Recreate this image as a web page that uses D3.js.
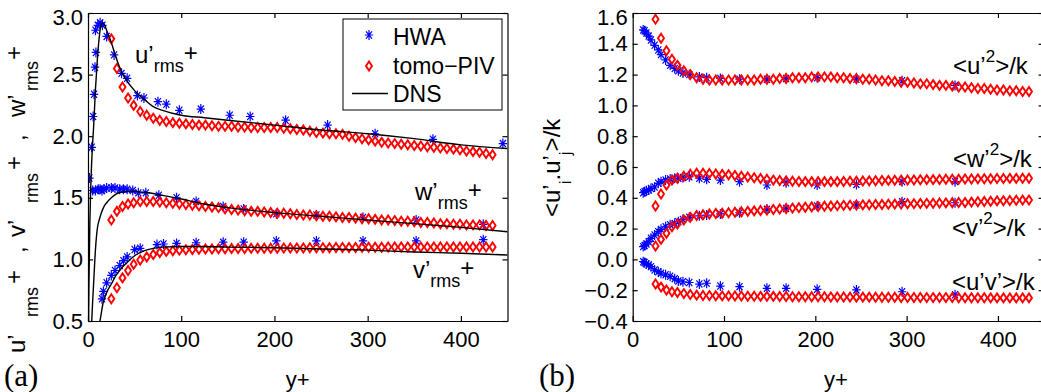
<!DOCTYPE html>
<html><head><meta charset="utf-8">
<script src="https://cdn.jsdelivr.net/npm/d3@7"></script>
<style>body{margin:0;background:#fff}svg{display:block}</style>
</head><body>
<svg id="c" width="1041" height="392"></svg>
<script>
// ---------------- data ----------------
const xTicks = [0, 100, 200, 300, 400];
const yTicksA = [0.5, 1.0, 1.5, 2.0, 2.5, 3.0];
const yTicksB = [-0.4, -0.2, 0.0, 0.2, 0.4, 0.6, 0.8, 1.0, 1.2, 1.4, 1.6];
const legendLabels = ["HWA", "tomo\u2212PIV", "DNS"];

// tomo-PIV wall distances (both panels)
const pivX = [25,31,37,43,49,56,63,70,77,84,91,98,105,112,119,126,133,140,147,154,161,168,175,182,189,196,203,210,217,224,231,238,245,252,259,266,273,280,287,294,301,308,315,322,329,336,343,350,357,364,371,378,385,392,399,406,413,420,427,434];
// panel (a) tomo-PIV
const pivUa = [2.79,2.55,2.40,2.31,2.25,2.20,2.17,2.145,2.13,2.12,2.11,2.105,2.10,2.095,2.09,2.09,2.085,2.08,2.08,2.08,2.075,2.075,2.07,2.07,2.07,2.07,2.07,2.065,2.06,2.055,2.05,2.04,2.03,2.025,2.02,2.02,2.015,2.00,1.99,1.98,1.97,1.96,1.95,1.945,1.94,1.935,1.93,1.925,1.92,1.915,1.91,1.905,1.90,1.895,1.89,1.88,1.875,1.87,1.86,1.85];
const pivWa = [1.32,1.39,1.43,1.45,1.46,1.47,1.47,1.47,1.465,1.46,1.455,1.45,1.445,1.44,1.435,1.43,1.425,1.42,1.41,1.405,1.40,1.395,1.39,1.39,1.385,1.38,1.375,1.375,1.37,1.365,1.36,1.36,1.355,1.35,1.35,1.345,1.34,1.34,1.335,1.33,1.33,1.325,1.32,1.32,1.315,1.31,1.31,1.305,1.30,1.30,1.295,1.29,1.29,1.285,1.285,1.28,1.28,1.28,1.275,1.275];
const pivVa = [0.68,0.77,0.85,0.91,0.96,0.995,1.02,1.04,1.055,1.065,1.07,1.075,1.078,1.08,1.082,1.084,1.085,1.086,1.087,1.088,1.088,1.089,1.09,1.09,1.09,1.09,1.091,1.092,1.092,1.093,1.093,1.094,1.094,1.095,1.095,1.096,1.096,1.097,1.097,1.098,1.098,1.099,1.099,1.10,1.10,1.10,1.10,1.10,1.10,1.10,1.10,1.10,1.10,1.10,1.10,1.10,1.10,1.10,1.10,1.10];
// panel (b) tomo-PIV
const pivUb = [1.56,1.436,1.355,1.30,1.26,1.225,1.20,1.18,1.17,1.165,1.165,1.165,1.165,1.165,1.165,1.165,1.165,1.17,1.17,1.17,1.175,1.175,1.18,1.18,1.18,1.185,1.185,1.185,1.185,1.18,1.18,1.175,1.175,1.17,1.17,1.165,1.16,1.16,1.155,1.15,1.15,1.145,1.14,1.14,1.135,1.13,1.13,1.125,1.12,1.12,1.115,1.11,1.11,1.105,1.10,1.10,1.095,1.095,1.09,1.09];
const pivWb = [0.347,0.425,0.483,0.515,0.527,0.54,0.553,0.559,0.559,0.558,0.555,0.552,0.55,0.545,0.54,0.535,0.53,0.525,0.52,0.515,0.512,0.51,0.508,0.506,0.505,0.505,0.505,0.505,0.505,0.505,0.506,0.507,0.508,0.509,0.51,0.511,0.512,0.513,0.514,0.515,0.516,0.516,0.517,0.518,0.518,0.519,0.52,0.52,0.521,0.522,0.522,0.523,0.524,0.524,0.525,0.525,0.526,0.526,0.527,0.527];
const pivVb = [0.087,0.13,0.17,0.212,0.23,0.256,0.273,0.285,0.29,0.295,0.298,0.30,0.303,0.306,0.309,0.312,0.315,0.318,0.321,0.324,0.327,0.33,0.333,0.336,0.339,0.341,0.343,0.345,0.347,0.349,0.351,0.352,0.353,0.354,0.355,0.356,0.357,0.358,0.359,0.36,0.361,0.362,0.363,0.364,0.365,0.366,0.367,0.368,0.369,0.37,0.372,0.374,0.376,0.378,0.38,0.381,0.382,0.384,0.385,0.386];
const pivUVb = [-0.16,-0.18,-0.199,-0.21,-0.215,-0.222,-0.228,-0.232,-0.234,-0.235,-0.236,-0.237,-0.237,-0.238,-0.238,-0.239,-0.239,-0.24,-0.24,-0.24,-0.241,-0.241,-0.242,-0.242,-0.242,-0.243,-0.243,-0.243,-0.244,-0.244,-0.244,-0.245,-0.245,-0.245,-0.245,-0.246,-0.246,-0.246,-0.246,-0.247,-0.247,-0.247,-0.247,-0.248,-0.248,-0.248,-0.248,-0.248,-0.249,-0.249,-0.249,-0.249,-0.249,-0.25,-0.25,-0.25,-0.25,-0.25,-0.25,-0.25];

// panel (a) HWA
const hwaUxA = [1.5,4,5.5,6.5,7.5,8.5,8,10.5,13,15.5,20,28,36,42,53,60,75,84,98,121,152,174,212,257,308,370,445];
const hwaUa  = [1.66,1.91,2.16,2.34,2.56,2.68,2.86,2.90,2.92,2.90,2.81,2.66,2.51,2.47,2.33,2.31,2.28,2.26,2.21,2.22,2.17,2.16,2.13,2.09,2.02,1.975,1.94];
const hwaWxA = [5,8,11,13,15,17,20,25,29,34,38,42,48,54,62,76,95,116,145,167,202,245,295,352,424];
const hwaWa  = [1.56,1.56,1.57,1.57,1.56,1.57,1.58,1.58,1.58,1.57,1.57,1.57,1.56,1.54,1.54,1.52,1.50,1.47,1.43,1.41,1.37,1.36,1.34,1.32,1.285];
const hwaVxA = [15,16.5,20,25,29,34,38,42,50,56,74,81,95,116,145,167,202,245,295,352,424];
const hwaVa  = [0.68,0.74,0.81,0.87,0.91,0.95,0.99,1.02,1.08,1.09,1.12,1.125,1.13,1.135,1.14,1.14,1.15,1.15,1.15,1.15,1.16];

// panel (b) HWA
const hwaXB  = [11.5,13,15,17.5,20,24,28,31,36,41,46,50,55,62,73,81,96,117,147,168,202,245,295,353];
const hwaUb  = [1.49,1.485,1.47,1.45,1.425,1.39,1.36,1.33,1.295,1.26,1.24,1.225,1.21,1.20,1.185,1.18,1.175,1.17,1.17,1.175,1.18,1.17,1.16,1.13];
const hwaWb  = [0.433,0.44,0.445,0.45,0.46,0.47,0.494,0.505,0.516,0.522,0.527,0.527,0.532,0.537,0.527,0.52,0.515,0.505,0.483,0.498,0.483,0.487,0.505,0.505];
const hwaVb  = [0.083,0.09,0.10,0.115,0.137,0.158,0.18,0.195,0.212,0.225,0.234,0.245,0.26,0.273,0.283,0.288,0.295,0.303,0.325,0.33,0.347,0.353,0.375,0.368];
const hwaUVb = [-0.015,-0.02,-0.028,-0.036,-0.047,-0.069,-0.08,-0.09,-0.10,-0.11,-0.125,-0.14,-0.145,-0.15,-0.16,-0.155,-0.173,-0.177,-0.188,-0.188,-0.194,-0.198,-0.21,-0.23];

// panel (a) DNS
const dnsX = [0,1,2,3,4,5,6,8,10,12,14,16,18,20,25,30,35,40,50,60,70,80,100,125,150,200,250,300,350,400,450];
const dnsU = [0,0.8,1.3,1.6,1.8,1.95,2.07,2.38,2.62,2.80,2.90,2.92,2.90,2.86,2.76,2.64,2.54,2.47,2.37,2.30,2.24,2.21,2.17,2.15,2.13,2.09,2.05,2.02,1.98,1.93,1.90];
const dnsV = [0,0.01,0.02,0.04,0.08,0.11,0.15,0.25,0.36,0.46,0.55,0.64,0.69,0.73,0.80,0.87,0.92,0.96,1.03,1.07,1.09,1.10,1.105,1.105,1.10,1.095,1.085,1.075,1.06,1.05,1.035];
const dnsW = [0,0.12,0.25,0.38,0.5,0.66,0.8,1.08,1.25,1.32,1.37,1.41,1.44,1.46,1.50,1.53,1.545,1.55,1.55,1.545,1.535,1.52,1.49,1.45,1.42,1.38,1.35,1.32,1.29,1.26,1.225];

// ---------------- drawing ----------------
const FONT = "'Liberation Sans', Arial, Helvetica, sans-serif";
const SERIF = "'Liberation Serif', 'Times New Roman', serif";
const svg = d3.select("#c");

const xA = d3.scaleLinear().domain([0, 450]).range([88, 507.5]);
const yA = d3.scaleLinear().domain([0.5, 3.0]).range([321, 13]);
const xB = d3.scaleLinear().domain([0, 450]).range([632.7, 1043.6]);
const yB = d3.scaleLinear().domain([-0.4, 1.6]).range([321, 13]);

const starPath = "M-4.2,0L4.2,0M0,-5L0,5M-3,-3.6L3,3.6M-3,3.6L3,-3.6";
const diamondPath = "M0,-4.5L3,0L0,4.5L-3,0Z";

function clip(id, x, y) {
  svg.append("clipPath").attr("id", id).append("rect")
    .attr("x", x.range()[0]).attr("y", y.range()[1])
    .attr("width", x.range()[1] - x.range()[0]).attr("height", y.range()[0] - y.range()[1]);
  return svg.append("g").attr("clip-path", `url(#${id})`);
}
function stars(g, xs, ys, x, y) {
  g.append("g").selectAll("path").data(xs.map((d, i) => [d, ys[i]])).join("path")
    .attr("d", starPath).attr("transform", d => `translate(${x(d[0])},${y(d[1])})`)
    .attr("fill", "none").attr("stroke", "#0000ff").attr("stroke-width", 1.2);
}
function diamonds(g, xs, ys, x, y) {
  g.append("g").selectAll("path").data(xs.map((d, i) => [d, ys[i]])).join("path")
    .attr("d", diamondPath).attr("transform", d => `translate(${x(d[0])},${y(d[1])})`)
    .attr("fill", "none").attr("stroke", "#ff0000").attr("stroke-width", 1.9);
}
function line(g, xs, ys, x, y) {
  g.append("path").datum(xs.map((d, i) => [d, ys[i]]))
    .attr("d", d3.line().x(d => x(d[0])).y(d => y(d[1])).curve(d3.curveMonotoneX))
    .attr("fill", "none").attr("stroke", "#000").attr("stroke-width", 1.4);
}
function axes(x, y, yt) {
  const [x0, x1] = x.range(), [yb, yt0] = y.range();
  const gb = svg.append("g").attr("transform", `translate(0,${yb})`)
    .call(d3.axisBottom(x).tickValues(xTicks).tickSize(-5).tickSizeOuter(0).tickPadding(10).tickFormat(d3.format("d")));
  const gt = svg.append("g").attr("transform", `translate(0,${yt0})`)
    .call(d3.axisTop(x).tickValues(xTicks).tickSize(-5).tickSizeOuter(0).tickFormat(""));
  const gl = svg.append("g").attr("transform", `translate(${x0},0)`)
    .call(d3.axisLeft(y).tickValues(yt).tickSize(-5).tickSizeOuter(0).tickPadding(5).tickFormat(d3.format(".1f")));
  const gr = svg.append("g").attr("transform", `translate(${x1},0)`)
    .call(d3.axisRight(y).tickValues(yt).tickSize(-5).tickSizeOuter(0).tickFormat(""));
  [gb, gt, gl, gr].forEach(g => {
    g.attr("font-family", FONT).attr("font-size", 22);
    g.selectAll("path,line").attr("stroke", "#000").attr("stroke-width", 1.2);
    g.selectAll("text").attr("fill", "#000");
  });
  gl.selectAll(".tick text").filter(d => d === yt[yt.length - 1]).attr("y", 4.5);
}

// panel (a)
const gA = clip("clipA", xA, yA);
stars(gA, hwaUxA, hwaUa, xA, yA);
stars(gA, hwaWxA, hwaWa, xA, yA);
stars(gA, hwaVxA, hwaVa, xA, yA);
diamonds(gA, pivX, pivUa, xA, yA);
diamonds(gA, pivX, pivWa, xA, yA);
diamonds(gA, pivX, pivVa, xA, yA);
line(gA, dnsX, dnsU, xA, yA);
line(gA, dnsX, dnsW, xA, yA);
line(gA, dnsX, dnsV, xA, yA);
axes(xA, yA, yTicksA);

// panel (b)
const gB = clip("clipB", xB, yB);
stars(gB, hwaXB, hwaUb, xB, yB);
stars(gB, hwaXB, hwaWb, xB, yB);
stars(gB, hwaXB, hwaVb, xB, yB);
stars(gB, hwaXB, hwaUVb, xB, yB);
diamonds(gB, pivX, pivUb, xB, yB);
diamonds(gB, pivX, pivWb, xB, yB);
diamonds(gB, pivX, pivVb, xB, yB);
diamonds(gB, pivX, pivUVb, xB, yB);
axes(xB, yB, yTicksB);

// text helpers
function rich(x, y, parts, size, rotate) {
  const t = svg.append("text").attr("font-family", FONT).attr("font-size", size).attr("fill", "#000")
    .attr("transform", rotate ? `translate(${x},${y}) rotate(-90)` : `translate(${x},${y})`);
  parts.forEach(p => {
    const ts = t.append("tspan").text(p.t).attr("font-size", p.s || size);
    if (p.x !== undefined) ts.attr("x", p.x);
    if (p.b !== undefined) ts.attr("y", p.b);
  });
  return t;
}

// x labels
svg.append("text").attr("x", (xA.range()[0] + xA.range()[1]) / 2).attr("y", 387).attr("text-anchor", "middle")
  .attr("font-family", FONT).attr("font-size", 22).text("y+");
svg.append("text").attr("x", (xB.range()[0] + 1039) / 2).attr("y", 387).attr("text-anchor", "middle")
  .attr("font-family", FONT).attr("font-size", 22).text("y+");
svg.append("text").attr("x", 4).attr("y", 386).attr("font-family", SERIF).attr("font-size", 31).text("(a)");
svg.append("text").attr("x", 539).attr("y", 386).attr("font-family", SERIF).attr("font-size", 31).text("(b)");

// y label (a)
rich(25, 353, [
  {t: "u\u2019", x: 0, b: 0}, {t: "rms", s: 18, x: 36, b: 13}, {t: "+", x: 69, b: -3},
  {t: ",", x: 100, b: 0},
  {t: "v\u2019", x: 116, b: 0}, {t: "rms", s: 18, x: 150, b: 13}, {t: "+", x: 183, b: -3},
  {t: ",", x: 212, b: 0},
  {t: "w\u2019", x: 236, b: 0}, {t: "rms", s: 18, x: 262, b: 13}, {t: "+", x: 293, b: -3}
], 24, true);

// y label (b)
rich(560, 217, [
  {t: "<u\u2019", b: 0}, {t: "i", s: 17, b: 11}, {t: ".u\u2019", b: 0}, {t: "j", s: 17, b: 11}, {t: ">/k", b: 0}
], 24, true);

// in-plot labels (a)
function rmsLabel(x, y, letter) {
  rich(x, y, [{t: letter + "\u2019", b: 0}, {t: "rms", s: 18, b: 9}, {t: "+", b: -2}], 24, false);
}
rmsLabel(135, 63, "u");
rmsLabel(415, 200, "w");
rmsLabel(413, 278, "v");

// in-plot labels (b)
function sqLabel(x, y, letter) {
  rich(x, y, [{t: "<" + letter + "\u2019", b: 0}, {t: "2", s: 17, b: -12}, {t: ">/k", b: 0}], 24, false);
}
sqLabel(953, 74, "u");
sqLabel(953, 167, "w");
sqLabel(952, 236, "v");
rich(952, 290, [{t: "<u\u2019v\u2019>/k"}], 24, false);

// legend
const lg = svg.append("g");
lg.append("rect").attr("x", 343).attr("y", 19).attr("width", 159).attr("height", 91)
  .attr("fill", "#fff").attr("stroke", "#000").attr("stroke-width", 1);
lg.append("path").attr("d", starPath).attr("transform", "translate(369,35)")
  .attr("fill", "none").attr("stroke", "#0000ff").attr("stroke-width", 1.2);
lg.append("path").attr("d", diamondPath).attr("transform", "translate(369,66)")
  .attr("fill", "none").attr("stroke", "#ff0000").attr("stroke-width", 1.9);
lg.append("line").attr("x1", 352).attr("x2", 388).attr("y1", 93.5).attr("y2", 93.5)
  .attr("stroke", "#000").attr("stroke-width", 1.3);
lg.selectAll("text").data(legendLabels).join("text")
  .attr("x", 393).attr("y", (d, i) => [45, 73.5, 102][i])
  .attr("font-family", FONT).attr("font-size", 23).attr("fill", "#000").text(d => d);
</script>
</body></html>
